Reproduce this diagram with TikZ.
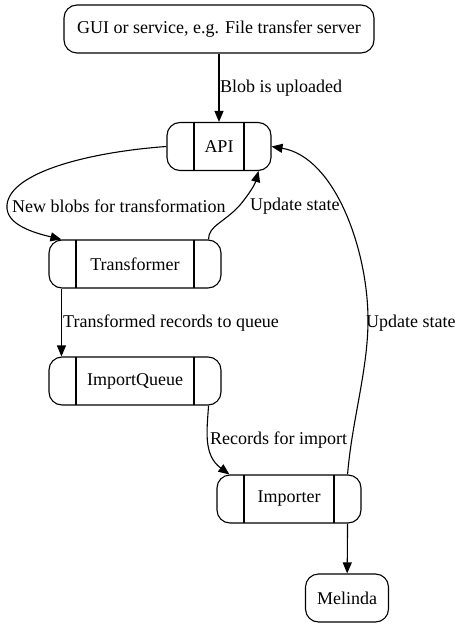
\documentclass[tikz,border=0pt]{standalone}
\usepackage{fontspec}
\setmainfont{Liberation Serif}
\usetikzlibrary{arrows.meta,positioning}
\tikzstyle{plain} = [rectangle, rounded corners=13pt, draw=black, line width=1.1pt, minimum height=48pt, inner sep=2pt, text centered, font=\fontsize{18}{22}\selectfont]
\tikzstyle{fields} = [plain, path picture={
    \draw[line width=1.1pt] ([xshift=27pt]path picture bounding box.north west) -- ([xshift=27pt]path picture bounding box.south west);
    \draw[line width=1.1pt] ([xshift=-27pt]path picture bounding box.north east) -- ([xshift=-27pt]path picture bounding box.south east);}]
\tikzstyle{arrow} = [line width=1.1pt, -{Triangle[length=11pt,width=9pt]}]
\tikzstyle{lbl} = [anchor=west, inner sep=0pt, font=\fontsize{18}{22}\selectfont]
\begin{document}
\begin{tikzpicture}[x=1pt, y=-1pt]
    \useasboundingbox (0,0) rectangle (460,628);
    \node (gui)[plain, minimum width=310pt] at (219,29) {GUI or service, e.g. File transfer server};
    \node (api)[fields, minimum width=104pt] at (219,146.5) {API};
    \node (transformer)[fields, minimum width=172pt] at (135,264) {Transformer};
    \node (queue)[fields, minimum width=172pt] at (135,381) {ImportQueue};
    \node (importer)[fields, minimum width=144pt] at (289,499) {Importer};
    \node (melinda)[plain, minimum width=83pt] at (347,598) {Melinda};
    \draw [arrow] (gui)--(api);
    \draw [arrow] (api.west) .. controls (90,152) and (10,172) .. (7,205) .. controls (5,225) and (35,233) .. ([xshift=13pt]transformer.north west);
    \draw [arrow] ([xshift=-13pt]transformer.north east) .. controls (208,226) and (225,222) .. (240,205) .. controls (250,193) and (255,184) .. ([xshift=-13pt]api.south east);
    \draw [arrow] ([xshift=13pt]transformer.south west)--([xshift=13pt]queue.north west);
    \draw [arrow] ([xshift=-13pt]queue.south east) .. controls (207,430) and (203,455) .. ([xshift=13pt]importer.north west);
    \draw [arrow] ([xshift=-14pt]importer.north east) .. controls (352,420) and (368,370) .. (368,320) .. controls (368,250) and (335,157) .. (api.east);
    \draw [arrow] ([xshift=-14pt]importer.south east)--(melinda);
    \node (l1)[lbl] at (220,88) {Blob is uploaded};
    \node (l2)[lbl] at (12,206) {New blobs for transformation};
    \node (l3)[lbl] at (250,206) {Update state};
    \node (l4)[lbl] at (63,323) {Transformed records to queue};
    \node (l5)[lbl] at (366,323) {Update state};
    \node (l6)[lbl] at (210,440) {Records for import};
\end{tikzpicture}
\end{document}
